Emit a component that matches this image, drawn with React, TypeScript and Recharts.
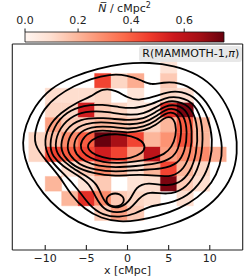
import React from 'react';
import { ComposedChart, XAxis, YAxis, Scatter, ReferenceArea, Legend } from 'recharts';

// 2 cMpc bins: left edges in x, lower edges in y (top row first)
const binX = [-14, -12, -10, -8, -6, -4, -2, 0, 2, 4, 6, 8, 10, 12];
const binY = [12, 10, 8, 6, 4, 2, 0, -2, -4, -6, -8, -10, -12, -14];
const binSize = 2;

// mean surface density per bin, rows follow binY, columns follow binX
const density = [
  [0, 0, 0, 0, 0, 0, 0, 0, 0, 0, 0, 0, 0, 0],
  [0, 0, 0, 0, 0, 0, 0, 0, 0, 0.08, 0, 0, 0, 0],
  [0, 0, 0, 0, 0, 0.45, 0.12, 0.22, 0, 0.15, 0, 0, 0, 0],
  [0, 0, 0.1, 0.1, 0.1, 0.12, 0, 0.08, 0, 0.12, 0.1, 0, 0, 0],
  [0, 0, 0.12, 0.12, 0.55, 0.15, 0.12, 0.06, 0.08, 0.5, 0.72, 0, 0, 0],
  [0, 0, 0.25, 0.15, 0.15, 0.2, 0.18, 0.15, 0.12, 0.2, 0.4, 0.2, 0, 0],
  [0, 0.12, 0.18, 0.3, 0.4, 0.75, 0.65, 0.45, 0.2, 0.28, 0.42, 0.2, 0, 0],
  [0, 0.12, 0.45, 0.4, 0.45, 0.55, 0.45, 0.25, 0.6, 0.25, 0.3, 0.3, 0.22, 0],
  [0, 0, 0, 0.1, 0.15, 0.3, 0.2, 0.1, 0.2, 0.45, 0.2, 0.12, 0, 0],
  [0, 0, 0.2, 0, 0.08, 0.15, 0, 0.08, 0.1, 0.72, 0.15, 0.1, 0, 0],
  [0, 0, 0, 0.2, 0.5, 0.3, 0.15, 0.12, 0.1, 0, 0.1, 0, 0, 0],
  [0, 0, 0, 0, 0, 0.15, 0.25, 0.15, 0, 0, 0, 0, 0, 0],
  [0, 0, 0, 0, 0, 0, 0, 0, 0, 0, 0, 0, 0, 0],
  [0, 0, 0, 0, 0, 0, 0, 0, 0, 0, 0, 0, 0, 0],
];

// KDE contour lines, [x, y] in cMpc, outermost first
const contour1 = [[-12.8, 0.5], [-12.4, 3.0], [-11.3, 5.5], [-9.4, 8.0], [-6.6, 9.6], [-3.6, 10.7], [-0.4, 11.4], [2.7, 11.5], [5.6, 11.1], [8.6, 9.9], [10.9, 7.8], [12.4, 5.0], [13.2, 2.2], [13.4, -0.8], [12.8, -4.0], [11.1, -6.8], [8.7, -9.0], [5.6, -10.5], [2.5, -11.4], [-0.5, -11.8], [-3.4, -11.4], [-6.0, -10.3], [-8.4, -8.5], [-10.3, -6.3], [-11.7, -3.9], [-12.5, -1.5]];
const contour2 = [[-11.5, 0.3], [-11.1, 2.9], [-10.2, 5.2], [-8.5, 7.0], [-6.5, 8.3], [-4.4, 9.3], [-2.2, 9.9], [0, 9.8], [1.8, 9.0], [2.9, 8.4], [4.3, 8.8], [6.3, 8.8], [8.3, 7.7], [10.0, 5.6], [11.0, 3.0], [11.6, 0], [11.3, -2.5], [10.3, -4.9], [8.6, -6.9], [6.3, -8.4], [3.8, -9.4], [1.2, -10.0], [-1.0, -10.2], [-3.2, -9.7], [-5.2, -8.5], [-6.9, -6.5], [-8.1, -4.2], [-9.7, -2.1]];
const contour3 = [[-10.2, 0.2], [-9.7, 2.8], [-8.1, 4.7], [-6.1, 6.1], [-4.5, 6.8], [-3.0, 8.0], [-1.4, 7.7], [0, 6.7], [1.3, 6.3], [3.2, 6.8], [4.8, 7.5], [6.6, 7.6], [8.5, 6.6], [9.8, 4.1], [10.4, 1.0], [10.1, -2.0], [9.1, -4.6], [7.3, -6.7], [5.0, -7.7], [2.6, -8.0], [1.0, -9.1], [-1.0, -9.6], [-3.0, -9.3], [-4.7, -7.9], [-6.1, -5.6], [-7.7, -3.7], [-9.3, -2.0]];
const contour4 = [[-9.5, 0.2], [-9.0, 2.8], [-7.4, 4.8], [-5.3, 5.7], [-3.0, 5.8], [-1.0, 5.4], [1.0, 5.2], [3.0, 5.8], [4.5, 6.7], [6.2, 6.9], [8.3, 5.9], [9.2, 3.0], [9.1, -1.0], [8.3, -3.8], [6.8, -5.9], [4.8, -6.5], [2.6, -6.0], [1.4, -6.9], [0.4, -8.5], [-1.2, -9.0], [-2.9, -8.6], [-3.9, -6.8], [-4.6, -5.0], [-6.1, -3.8], [-7.9, -2.6], [-9.1, -1.3]];
const contour5 = [[-8.9, 0.2], [-8.3, 2.6], [-6.6, 4.4], [-4.5, 4.9], [-2.5, 4.8], [0, 4.3], [2.0, 4.5], [3.5, 5.4], [4.6, 6.2], [6.0, 6.3], [7.9, 5.4], [8.6, 2.5], [8.4, -1.0], [7.6, -3.5], [6.3, -5.0], [4.5, -5.3], [2.5, -4.8], [1.0, -5.4], [0.4, -7.2], [-0.8, -8.3], [-2.3, -8.2], [-3.1, -6.8], [-3.7, -5.0], [-5.0, -3.9], [-6.9, -2.8], [-8.4, -1.3]];
const contour6 = [[-8.2, 0.2], [-7.6, 2.4], [-5.8, 3.9], [-3.0, 4.0], [0, 3.6], [2.0, 3.8], [3.5, 4.8], [4.6, 5.6], [5.9, 5.8], [7.4, 4.9], [7.9, 2.2], [7.7, -0.8], [6.9, -3.0], [5.4, -4.1], [3.5, -3.9], [1.5, -3.7], [-1.5, -4.0], [-4.2, -3.6], [-6.5, -2.7], [-7.8, -1.2]];
const contour7 = [[-7.4, 0.2], [-6.8, 2.1], [-5.2, 3.3], [-2.5, 3.4], [0, 3.0], [2.0, 3.2], [3.5, 4.2], [4.6, 5.1], [5.7, 5.3], [6.9, 4.4], [7.3, 2.0], [7.0, -0.5], [6.2, -2.3], [4.2, -3.0], [1.5, -3.1], [-1.5, -3.4], [-4.0, -3.1], [-5.9, -2.4], [-7.1, -1.1]];
const contour8 = [[-6.6, 0.2], [-6.1, 1.8], [-4.5, 2.8], [-2.0, 2.8], [0, 2.4], [2.0, 2.7], [3.5, 3.6], [4.6, 4.6], [5.6, 4.8], [6.4, 3.9], [6.6, 1.8], [6.2, -0.3], [5.4, -1.6], [3.5, -2.3], [1.0, -2.6], [-1.5, -2.8], [-3.5, -2.6], [-5.2, -2.0], [-6.3, -1.0]];
const contour9 = [[-5.8, 0.2], [-5.3, 1.5], [-4.0, 2.3], [-2.0, 2.2], [0, 1.9], [2.0, 2.2], [3.5, 3.0], [4.5, 4.0], [5.3, 4.2], [5.9, 3.2], [5.9, 1.5], [5.4, 0], [4.5, -1.0], [3.0, -1.6], [1.0, -2.0], [-1.0, -2.2], [-3.0, -2.1], [-4.6, -1.5], [-5.5, -0.7]];
const contour10 = [[-5.0, 0.05], [-4.4, 1.0], [-3.0, 1.65], [-1.2, 1.8], [0.5, 1.5], [1.8, 0.85], [2.2, 0.0], [1.8, -0.85], [0.5, -1.5], [-1.3, -1.75], [-3.1, -1.45], [-4.4, -0.8]];
const peak2 = [[-0.4, -7.2], [-0.55, -6.74], [-0.95, -6.4], [-1.5, -6.28], [-2.05, -6.4], [-2.45, -6.74], [-2.6, -7.2], [-2.45, -7.66], [-2.05, -8.0], [-1.5, -8.12], [-0.95, -8.0], [-0.55, -7.66]];

const contours = [contour1, contour2, contour3, contour4, contour5, contour6, contour7, contour8, contour9, contour10, peak2];

const xTicks = [-10, -5, 0, 5, 10];
const yTicks = [-10, -5, 0, 5, 10];
const cbarTicks = [0, 0.2, 0.4, 0.6];
const VMAX = 0.75;
const cbarRange = [{ v: 0, w: 0 }, { v: VMAX, w: 1 }];

// matplotlib "Reds"
const REDS = ['#fff5f0', '#fee0d2', '#fcbba1', '#fc9272', '#fb6a4a', '#ef3b2c', '#cb181d', '#a50f15', '#67000d'];

const hexToRgb = (h: string) => [1, 3, 5].map((i) => parseInt(h.slice(i, i + 2), 16));

const reds = (v: number) => {
  const t = Math.min(Math.max(v / VMAX, 0), 1) * (REDS.length - 1);
  const i = Math.min(Math.floor(t), REDS.length - 2);
  const f = t - i;
  const a = hexToRgb(REDS[i]);
  const b = hexToRgb(REDS[i + 1]);
  return `rgb(${a.map((c, k) => Math.round(c + (b[k] - c) * f)).join(',')})`;
};

const cells = density.flatMap((row, i) =>
  row
    .map((v, j) => ({ v, x1: binX[j], x2: binX[j] + binSize, y1: binY[i], y2: binY[i] + binSize }))
    .filter((c) => c.v > 0)
);

const contourData = contours.map((c) => c.map(([x, y]) => ({ x, y })));

const INK = '#222';
const EmptyShape = () => <g />;

const fmtTick = (v: number) => (v < 0 ? `\u2212${Math.abs(v)}` : `${v}`);

const BottomTick = (props: any) => {
  const { x, y, payload } = props;
  return (
    <g>
      <line x1={x} x2={x} y1={y} y2={y - 5} stroke={INK} strokeWidth={1.1} />
      <text x={x} y={y + 12} textAnchor="middle" fontSize={11} fill={INK}>
        {fmtTick(payload.value)}
      </text>
    </g>
  );
};

const CbarTitle = (props: any) => {
  const vb = props.viewBox || {};
  const cx = (vb.x ?? 25) + (vb.width ?? 199) / 2;
  return (
    <text x={cx} y={12} textAnchor="middle" fontSize={11} fill={INK}>
      <tspan fontStyle="italic">{'N\u0305'}</tspan>
      <tspan> / cMpc</tspan>
      <tspan fontSize={8} dy={-4}>2</tspan>
    </text>
  );
};

const LegendBox = () => (
  <div
    style={{
      background: 'rgba(228,228,228,0.85)',
      borderRadius: 3,
      padding: '0 3px',
      fontSize: 11,
      lineHeight: '16.5px',
      color: '#111',
      whiteSpace: 'nowrap',
    }}
  >
    R(MAMMOTH-1,<i>π</i>)
  </div>
);

// spines: hair-thin mirrored axes so the ticks point inward
const spineProps = {
  type: 'number' as const,
  domain: [-14, 14],
  allowDataOverflow: true,
  mirror: true,
  tick: false,
  tickSize: 5,
  tickLine: { stroke: INK, strokeWidth: 1.1 },
  axisLine: { stroke: INK, strokeWidth: 1.1 },
};

export default function App() {
  return (
    <div
      style={{
        position: 'absolute',
        left: 0,
        top: 0,
        width: 249,
        height: 279,
        background: '#fff',
        fontFamily: "'DejaVu Sans', sans-serif",
      }}
    >
      <div style={{ position: 'absolute', left: 0, top: 0 }}>
        <ComposedChart width={249} height={279} margin={{ top: 44, right: 6.3, bottom: 0, left: 12.3 }}>
          <XAxis
            xAxisId="b"
            type="number"
            dataKey="x"
            domain={[-14, 14]}
            allowDataOverflow
            ticks={xTicks}
            orientation="bottom"
            height={29}
            tickSize={0}
            tickMargin={0}
            tickLine={false}
            tick={BottomTick}
            axisLine={{ stroke: INK, strokeWidth: 1.1 }}
            label={{ value: 'x [cMpc]', position: 'insideBottom', offset: 5.5, fill: INK, fontSize: 11 }}
          />
          <XAxis xAxisId="t" dataKey="x" ticks={xTicks} orientation="top" height={0.01} {...spineProps} />
          <YAxis yAxisId="l" dataKey="y" ticks={yTicks} orientation="left" width={0.01} {...spineProps} />
          <YAxis yAxisId="r" dataKey="y" ticks={yTicks} orientation="right" width={0.01} {...spineProps} />

          {cells.map((c, i) => (
            <ReferenceArea
              key={`cell-${i}`}
              xAxisId="b"
              yAxisId="l"
              x1={c.x1}
              x2={c.x2}
              y1={c.y1}
              y2={c.y2}
              fill={reds(c.v)}
              fillOpacity={1}
              stroke={reds(c.v)}
              strokeWidth={0.4}
              ifOverflow="visible"
            />
          ))}

          {contourData.map((d, i) => (
            <Scatter
              key={`contour-${i}`}
              xAxisId="b"
              yAxisId="l"
              data={d}
              line={{ stroke: '#000', strokeWidth: 1.8 }}
              lineType="joint"
              lineJointType="basisClosed"
              shape={EmptyShape}
              isAnimationActive={false}
            />
          ))}
          {/* keep the top / right spines tied to a series */}
          <Scatter xAxisId="t" yAxisId="r" data={contourData[0]} shape={EmptyShape} isAnimationActive={false} />

          <Legend
            content={LegendBox}
            layout="vertical"
            align="center"
            verticalAlign="middle"
            wrapperStyle={{ top: 45.7, right: 6.8, left: 'auto', bottom: 'auto', width: 'auto', height: 'auto' }}
          />
        </ComposedChart>
      </div>

      <div style={{ position: 'absolute', left: 0, top: 0 }}>
        <ComposedChart width={249} height={44} margin={{ top: 0, right: 25, bottom: 2, left: 25 }}>
          <defs>
            <linearGradient id="redsGrad" x1="0" x2="1" y1="0" y2="0">
              {REDS.map((c, i) => (
                <stop key={c} offset={i / (REDS.length - 1)} stopColor={c} />
              ))}
            </linearGradient>
          </defs>
          <XAxis
            type="number"
            dataKey="v"
            orientation="top"
            domain={[0, VMAX]}
            allowDataOverflow
            ticks={cbarTicks}
            tickFormatter={(v: number) => v.toFixed(1)}
            height={32}
            axisLine={false}
            tickSize={3.5}
            tickMargin={4.5}
            tickLine={{ stroke: INK, strokeWidth: 1 }}
            tick={{ fill: INK, fontSize: 11 }}
            label={CbarTitle}
          />
          <YAxis type="number" dataKey="w" domain={[0, 1]} allowDataOverflow hide />
          <ReferenceArea
            x1={0}
            x2={VMAX}
            y1={0}
            y2={1}
            fill="url(#redsGrad)"
            fillOpacity={1}
            stroke="#111"
            strokeWidth={0.8}
            ifOverflow="visible"
          />
          <Scatter data={cbarRange} shape={EmptyShape} isAnimationActive={false} />
        </ComposedChart>
      </div>
    </div>
  );
}
